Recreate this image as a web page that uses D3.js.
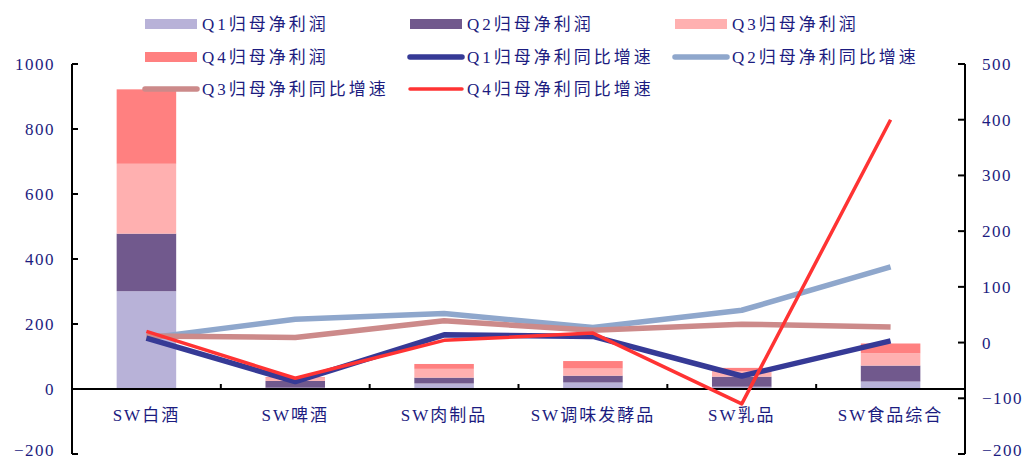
<!DOCTYPE html>
<html>
<head>
<meta charset="utf-8">
<script src="https://cdn.jsdelivr.net/npm/d3@7"></script>
<style>
 body { margin: 0; background: #fff; }
 svg text { font-family: "Liberation Serif", "Noto Sans CJK SC", serif; fill: #1c1c80; }
</style>
</head>
<body>
<div id="chart"></div>
<script>
// categories and values
const categories = ["SW白酒", "SW啤酒", "SW肉制品", "SW调味发酵品", "SW乳品", "SW食品综合"];
const profitQ1 = [301, 4, 17, 20, 7, 23];
const profitQ2 = [177, 21, 18, 21, 31, 49];
const profitQ3 = [215, 10, 27, 22, 17, 38];
const profitQ4 = [229, 2, 15, 23, 10, 30];
const growthQ1 = [8, -70, 14, 11, -60, 3];
const growthQ2 = [8, 42, 52, 27, 58, 136];
const growthQ3 = [12, 9, 39, 22, 33, 28];
const growthQ4 = [20, -64, 4, 17, -110, 400];
const leftTicks = [-200, 0, 200, 400, 600, 800, 1000];
const rightTicks = [-200, -100, 0, 100, 200, 300, 400, 500];

const width = 1024, height = 462;
const plotL = 72, plotR = 965, plotT = 64, plotB = 454;

const svg = d3.select("#chart").append("svg")
 .attr("width", width)
 .attr("height", height);

const x = d3.scaleBand().domain(categories).range([plotL, plotR]);
const yL = d3.scaleLinear().domain([-200, 1000]).range([plotB, plotT]);
const yR = d3.scaleLinear().domain([-200, 500]).range([plotB, plotT]);

// stacked bars
const barKeys = ["q1", "q2", "q3", "q4"];
const barColors = ["#b8b2d8", "#71598d", "#ffb0b0", "#ff8080"];
const rows = categories.map((c, i) => ({
 cat: c, q1: profitQ1[i], q2: profitQ2[i], q3: profitQ3[i], q4: profitQ4[i]
}));
const stacked = d3.stack().keys(barKeys)(rows);
const bw = x.bandwidth() * 0.4;

svg.append("g").selectAll("g")
 .data(stacked)
 .join("g")
 .attr("fill", (d, i) => barColors[i])
 .selectAll("rect")
 .data(d => d)
 .join("rect")
 .attr("x", d => x(d.data.cat) + (x.bandwidth() - bw) / 2)
 .attr("width", bw)
 .attr("y", d => yL(d[1]))
 .attr("height", d => yL(d[0]) - yL(d[1]));

// axes
const axisG = svg.append("g").attr("stroke", "#000").attr("stroke-width", 2);
axisG.append("line").attr("x1", plotL).attr("x2", plotL).attr("y1", plotT).attr("y2", plotB);
axisG.append("line").attr("x1", plotR).attr("x2", plotR).attr("y1", plotT).attr("y2", plotB);
axisG.selectAll(".tl").data(leftTicks).join("line")
 .attr("class", "tl")
 .attr("x1", plotL).attr("x2", plotL + 6)
 .attr("y1", d => yL(d)).attr("y2", d => yL(d));
axisG.selectAll(".tr").data(rightTicks).join("line")
 .attr("class", "tr")
 .attr("x1", plotR - 7).attr("x2", plotR)
 .attr("y1", d => yR(d)).attr("y2", d => yR(d));
axisG.append("line").attr("x1", plotL).attr("x2", plotR).attr("y1", yL(0)).attr("y2", yL(0));
axisG.selectAll(".tx").data(categories.slice(1)).join("line")
 .attr("class", "tx")
 .attr("x1", d => x(d)).attr("x2", d => x(d))
 .attr("y1", yL(0)).attr("y2", yL(0) - 5);

// keep the bottom labels inside the window
const labelY = y => Math.min(y, height - 12);

svg.append("g").selectAll("text").data(leftTicks).join("text")
 .attr("x", 55).attr("y", d => labelY(yL(d)))
 .attr("dy", "0.35em")
 .attr("text-anchor", "end")
 .attr("font-size", 17)
 .attr("letter-spacing", 1.5)
 .text(d => d < 0 ? "\u2212" + Math.abs(d) : d);

svg.append("g").selectAll("text").data(rightTicks).join("text")
 .attr("x", 982).attr("y", d => labelY(yR(d)))
 .attr("dy", "0.35em")
 .attr("font-size", 17)
 .attr("letter-spacing", 1.5)
 .text(d => d < 0 ? "\u2212" + Math.abs(d) : d);

svg.append("g").selectAll("text").data(categories).join("text")
 .attr("x", d => x(d) + x.bandwidth() / 2)
 .attr("y", 421)
 .attr("text-anchor", "middle")
 .attr("font-size", 17)
 .attr("letter-spacing", 2)
 .text(d => d);

// growth lines
const lines = [
 { name: "Q1归母净利同比增速", values: growthQ1, color: "#363a96", w: 5.5 },
 { name: "Q2归母净利同比增速", values: growthQ2, color: "#8fa7cc", w: 5.5 },
 { name: "Q3归母净利同比增速", values: growthQ3, color: "#cc8a8a", w: 5.5 },
 { name: "Q4归母净利同比增速", values: growthQ4, color: "#ff3333", w: 3.5 }
];
const lineGen = d3.line()
 .x((d, i) => x(categories[i]) + x.bandwidth() / 2)
 .y(d => yR(d));

const drawOrder = [1, 2, 0, 3];
svg.append("g").selectAll("path")
 .data(drawOrder.map(i => lines[i]))
 .join("path")
 .attr("fill", "none")
 .attr("stroke", d => d.color)
 .attr("stroke-width", d => d.w)
 .attr("stroke-linejoin", "round")
 .attr("d", d => lineGen(d.values));

// legend
const legendItems = [
 { name: "Q1归母净利润", type: "bar", color: barColors[0] },
 { name: "Q2归母净利润", type: "bar", color: barColors[1] },
 { name: "Q3归母净利润", type: "bar", color: barColors[2] },
 { name: "Q4归母净利润", type: "bar", color: barColors[3] },
 ...lines.map(l => ({ name: l.name, type: "line", color: l.color, w: l.w }))
];
const colX = [145, 410, 675];
const rowY = [24, 57, 89];

const leg = svg.append("g").selectAll("g")
 .data(legendItems)
 .join("g")
 .attr("transform", (d, i) => `translate(${colX[i % 3]},${rowY[Math.floor(i / 3)]})`);

leg.filter(d => d.type === "bar").append("rect")
 .attr("x", 0).attr("y", -5).attr("width", 52).attr("height", 10)
 .attr("fill", d => d.color);

leg.filter(d => d.type === "line").append("line")
 .attr("x1", 0).attr("x2", 52).attr("y1", 0).attr("y2", 0)
 .attr("stroke", d => d.color)
 .attr("stroke-width", d => d.w)
 .attr("stroke-linecap", "round");

leg.append("text")
 .attr("x", 57).attr("y", 0)
 .attr("dy", "0.35em")
 .attr("font-size", 17)
 .attr("letter-spacing", 3)
 .text(d => d.name);
</script>
</body>
</html>
